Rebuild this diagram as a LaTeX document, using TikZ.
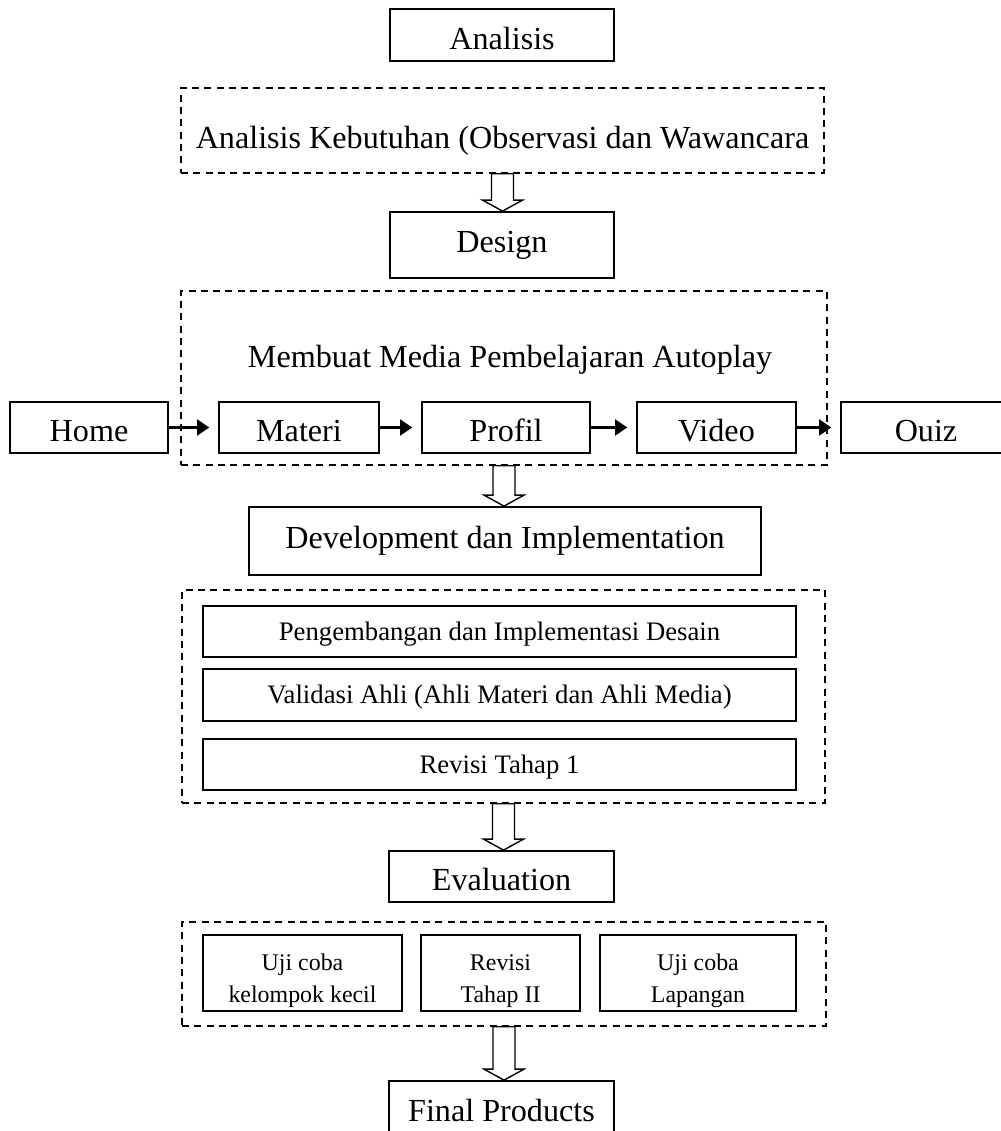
\documentclass[tikz,border=0pt]{standalone}
\usepackage{fontspec}
\setmainfont{Liberation Serif}
\usetikzlibrary{arrows.meta,calc}
\newcommand{\besar}{\fontsize{18.3}{22}\selectfont}
\newcommand{\sedang}{\fontsize{15.2}{18}\selectfont}
\newcommand{\kecil}{\fontsize{13.6}{18}\selectfont}

\begin{document}
\begin{tikzpicture}[x=0.02cm,y=-0.02cm]
\tikzset{Kotak/.style = {draw, line width=1pt, inner sep=0pt, font=\besar},
KotakPutus/.style = {draw, dash pattern=on 4pt off 3pt, line width=0.9pt, inner sep=0pt},
Turun/.style = {text height=#1, text depth=0pt}, Turun/.default=16pt,
PanahTebal/.style = {line width=1.5pt, -{Triangle[length=7pt,width=9pt]}, shorten >=5pt},
PanahBlok/.style = {line width=0.8pt, to path={let \p1=(\tikztostart), \p2=(\tikztotarget) in (\x1-0.22cm,\y1) -- (\x1+0.22cm,\y1) -- (\x1+0.22cm,\y2+0.22cm) -- (\x1+0.4cm,\y2+0.22cm) -- (\x1,\y2) -- (\x1-0.4cm,\y2+0.22cm) -- (\x1-0.22cm,\y2+0.22cm) -- cycle}}}
\useasboundingbox (0,0) rectangle (1000,1131);

\node[Kotak, Turun, minimum width=4.48cm, minimum height=1.04cm] (analisis) at (502,35) {Analisis};
\node[KotakPutus, Turun=21pt, minimum width=12.86cm, minimum height=1.7cm, font=\besar] (kebutuhan) at (502.5,130.5) {Analisis Kebutuhan (Observasi dan Wawancara};
\node[Kotak, minimum width=4.48cm, minimum height=1.32cm] (design) at (502,245) {Design};
\draw[PanahBlok] (kebutuhan.south) to (design.north);

\node[KotakPutus, minimum width=12.92cm, minimum height=3.48cm] (membuat) at (504,378) {};
\node[font=\besar] (judul) at (510,360) {Membuat Media Pembelajaran Autoplay};
\node[Kotak, Turun, minimum width=3.16cm, minimum height=1.02cm] (home) at (89,427.5) {Home};
\node[Kotak, Turun, minimum width=3.2cm, minimum height=1.02cm] (materi) at (299,427.5) {Materi};
\node[Kotak, Turun, minimum width=3.36cm, minimum height=1.02cm] (profil) at (506,427.5) {Profil};
\node[Kotak, Turun, minimum width=3.18cm, minimum height=1.02cm] (video) at (716.5,427.5) {Video};
\node[Kotak, Turun, minimum width=3.4cm, minimum height=1.02cm] (ouiz) at (926,427.5) {Ouiz};
\draw[PanahTebal] (home) -- (materi); \draw[PanahTebal] (materi) -- (profil);
\draw[PanahTebal] (profil) -- (video); \draw[PanahTebal] (video) -- (ouiz);

\node[Kotak, minimum width=10.24cm, minimum height=1.36cm] (development) at (505,541) {Development dan Implementation};
\draw[PanahBlok] (membuat.south) to (development.north);

\node[KotakPutus, minimum width=12.86cm, minimum height=4.26cm] (devbox) at (503.5,696.5) {};
\node[Kotak, Turun=10pt, font=\sedang, minimum width=11.86cm, minimum height=1.02cm] (pengembangan) at (499.5,631.5) {Pengembangan dan Implementasi Desain};
\node[Kotak, Turun=10pt, font=\sedang, minimum width=11.86cm, minimum height=1.04cm] (validasi) at (499.5,695) {Validasi Ahli (Ahli Materi dan Ahli Media)};
\node[Kotak, Turun=10pt, font=\sedang, minimum width=11.86cm, minimum height=1.02cm] (revisi1) at (499.5,764.5) {Revisi Tahap 1};

\node[Kotak, Turun, minimum width=4.5cm, minimum height=1.02cm] (evaluation) at (501.5,876.5) {Evaluation};
\draw[PanahBlok] (devbox.south) to (evaluation.north);

\node[KotakPutus, minimum width=12.88cm, minimum height=2.08cm] (evalbox) at (504,974) {};
\node[Kotak, font=\kecil, align=center, minimum width=3.98cm, minimum height=1.52cm] (ujikecil) at (302.5,973) {\rule{0pt}{18pt}Uji coba\\kelompok kecil};
\node[Kotak, font=\kecil, align=center, minimum width=3.18cm, minimum height=1.52cm] (revisi2) at (500.5,973) {\rule{0pt}{18pt}Revisi\\Tahap II};
\node[Kotak, font=\kecil, align=center, minimum width=3.92cm, minimum height=1.52cm] (ujilapangan) at (698,973) {\rule{0pt}{18pt}Uji coba\\Lapangan};

\node[Kotak, minimum width=4.5cm, minimum height=1.16cm] (final) at (501.5,1110) {Final Products};
\draw[PanahBlok] (evalbox.south) to (final.north);
\end{tikzpicture}
\end{document}
